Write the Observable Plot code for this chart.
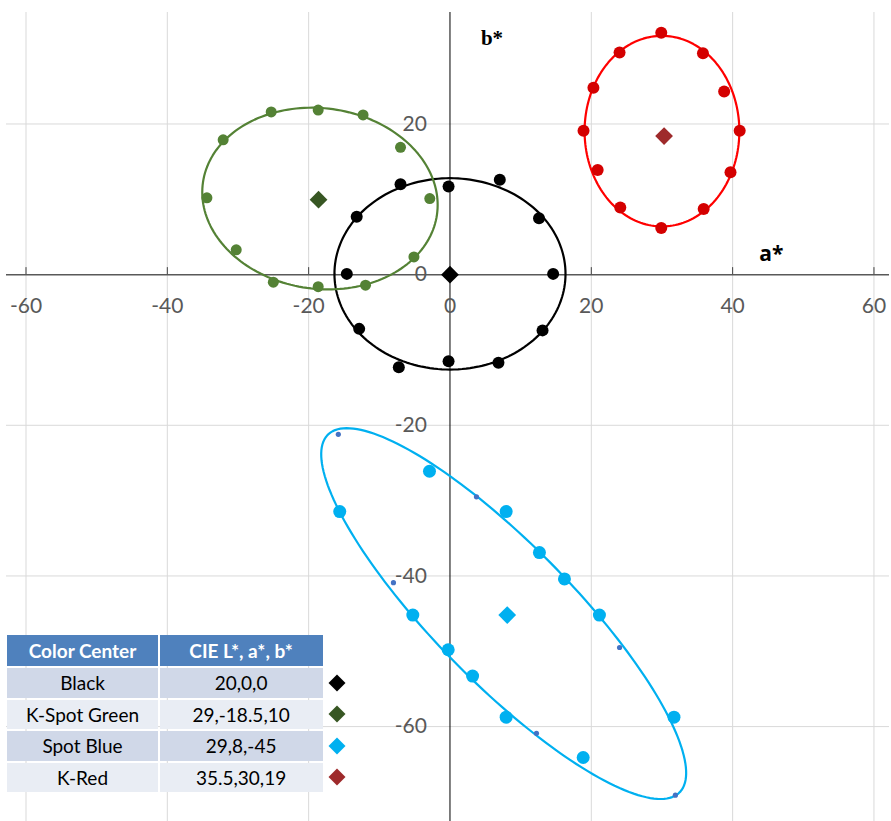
<!DOCTYPE html>
<html>
<head>
<meta charset="utf-8">
<script src="https://cdn.jsdelivr.net/npm/d3@7"></script>
<script src="https://cdn.jsdelivr.net/npm/@observablehq/plot@0.6"></script>
<style>
  body { margin: 0; background: #fff; }
  #wrap { position: relative; width: 891px; height: 821px; overflow: hidden; font-family: Lato, "Open Sans", sans-serif; }
  #chart { position: absolute; left: 0; top: 0; }
  #legend { position: absolute; left: 7px; top: 635px; display: grid;
    grid-template-columns: 151px 163px 26px; grid-template-rows: 31px repeat(4, 29.5px);
    column-gap: 1.6px; row-gap: 2px; }
  .cell { display: flex; align-items: center; justify-content: center; font-size: 19px; color: #000; }
  .hdr { background: #4F81BD; color: #fff; font-weight: bold; }
  .odd { background: #D0D8E8; }
  .even { background: #E9EDF4; }
  .sym { display: flex; align-items: center; justify-content: center; }
  .dia { width: 12px; height: 12px; transform: rotate(45deg); }
</style>
</head>
<body>
<div id="wrap">
  <div id="chart"></div>
  <div id="legend"></div>
</div>
<script>
// ---- data ----
const groups = ["Black", "K-Spot Green", "Spot Blue", "K-Red"];
const tableValues = ["20,0,0", "29,-18.5,10", "29,8,-45", "35.5,30,19"];
const tableHeader = ["Color Center", "CIE L*, a*, b*"];

// plotted centre diamonds (a*, b*)
const centerA = [0, -18.6, 8.1, 30.3];
const centerB = [0, 9.95, -45.2, 18.4];

// measured points
const blackA = [-0.2, 7.05, -7.0, -13.2, 12.6, -14.6, 14.6, -12.85, 13.1, -0.2, 6.86, -7.24];
const blackB = [11.7, 12.6, 12.0, 7.7, 7.5, 0.1, 0.1, -7.2, -7.4, -11.5, -11.7, -12.3];
const greenA = [-25.3, -18.65, -12.3, -32.1, -7.0, -34.4, -2.86, -30.25, -5.1, -25.0, -18.65, -11.95];
const greenB = [21.6, 21.85, 21.2, 17.9, 16.9, 10.2, 10.1, 3.3, 2.35, -1.0, -1.6, -1.4];
const redA = [29.9, 24.0, 35.8, 20.3, 38.8, 18.9, 41.0, 20.9, 39.7, 24.1, 35.9, 29.9];
const redB = [32.1, 29.5, 29.4, 24.8, 24.3, 19.1, 19.1, 13.9, 13.6, 8.9, 8.7, 6.2];
const blueA = [-2.9, -15.6, 7.95, 12.66, 16.2, -5.26, 21.15, -0.25, 3.2, 7.95, 31.7, 18.85];
const blueB = [-26.1, -31.45, -31.45, -36.9, -40.4, -45.2, -45.2, -49.8, -53.3, -58.75, -58.75, -64.1];
const blueSmallA = [-15.8, 3.75, -8.0, 24.0, 12.24, 31.9];
const blueSmallB = [-21.2, -29.5, -40.9, -49.5, -60.9, -69.1];

// fitted tolerance ellipses: centre, semi-axes, rotation (degrees)
const ellipseCx = [0, -18.4, 7.6, 30.0];
const ellipseCy = [0.1, 10.1, -45.0, 19.05];
const ellipseRx = [16.35, 16.7, 34.4, 10.95];
const ellipseRy = [12.7, 12.0, 9.45, 12.65];
const ellipseAngle = [0, -6, -43.4, 0];

// axis ticks
const xTicks = [-60, -40, -20, 0, 20, 40, 60];
const yTicks = [20, 0, -20, -40, -60];

// ---- styles ----
const lineColors = ["#000000", "#548235", "#00B0F0", "#FF0000"];
const dotColors = ["#000000", "#548235", "#00B0F0", "#D40000"];
const centerColors = ["#000000", "#375623", "#00B0F0", "#9E2A2B"];
const dotR = [6, 5.5, 6.5, 6];
const font = "Lato, 'Open Sans', sans-serif";

const pts = [[blackA, blackB], [greenA, greenB], [blueA, blueB], [redA, redB]];

function outline(i) {
  const th = ellipseAngle[i] * Math.PI / 180;
  return d3.range(0, 361, 2).map(deg => {
    const t = deg * Math.PI / 180;
    const u = ellipseRx[i] * Math.cos(t), v = ellipseRy[i] * Math.sin(t);
    return {x: ellipseCx[i] + u * Math.cos(th) - v * Math.sin(th),
            y: ellipseCy[i] + u * Math.sin(th) + v * Math.cos(th)};
  });
}

const marks = [
  Plot.gridX(xTicks.filter(d => d !== 0), {stroke: "#d9d9d9", strokeOpacity: 1, strokeWidth: 1}),
  Plot.gridY(yTicks.filter(d => d !== 0), {stroke: "#d9d9d9", strokeOpacity: 1, strokeWidth: 1}),
  Plot.ruleY([0], {stroke: "#595959", strokeWidth: 1.5}),
  Plot.ruleX([0], {stroke: "#000", strokeWidth: 1}),
  Plot.ruleX(xTicks.filter(d => d !== 0), {x: d => d, y1: 0, y2: 0, insetTop: -7, stroke: "#404040", strokeWidth: 1}),
  Plot.text(xTicks, {x: d => d, y: 0, dy: 32, text: d => String(d), fill: "#595959", fontSize: 21, fontFamily: font}),
  Plot.text(yTicks, {x: 0, y: d => d, dx: -23, textAnchor: "end", text: d => String(d), fill: "#595959", fontSize: 21, fontFamily: font}),
  Plot.text(["b*"], {x: 0, frameAnchor: "top", dx: 42, dy: 18, text: d => d, fontSize: 21, fontWeight: "bold", fontFamily: "'Liberation Serif', 'DejaVu Serif', serif", fill: "#000"}),
  Plot.text(["a*"], {y: 0, frameAnchor: "right", dx: -106, dy: -20, text: d => d, fontSize: 21, fontWeight: "bold", fontFamily: "'Open Sans', Lato, sans-serif", fill: "#000"})
];

groups.forEach((g, i) => {
  marks.push(Plot.line(outline(i), {x: "x", y: "y", stroke: lineColors[i], strokeWidth: 2.2, curve: "linear"}));
});
groups.forEach((g, i) => {
  const [A, B] = pts[i];
  marks.push(Plot.dot(A.map((a, k) => ({a, b: B[k]})), {x: "a", y: "b", r: dotR[i], fill: dotColors[i], stroke: "none"}));
});
marks.push(Plot.dot(blueSmallA.map((a, k) => ({a, b: blueSmallB[k]})), {x: "a", y: "b", r: 2.6, fill: "#4472C4", stroke: "none"}));
marks.push(Plot.dot(groups.map((g, i) => ({g, a: centerA[i], b: centerB[i], c: centerColors[i]})),
  {x: "a", y: "b", r: 8, symbol: "diamond2", fill: "c", stroke: "none"}));

const chart = Plot.plot({
  width: 891,
  height: 821,
  marginTop: 12,
  marginBottom: 0,
  marginLeft: 6,
  marginRight: 2,
  x: {domain: [-62.76, 62.2], axis: null},
  y: {domain: [-72.6, 34.8], axis: null},
  color: {type: "identity"},
  style: {background: "transparent", overflow: "visible"},
  marks
});
document.getElementById("chart").appendChild(chart);

// ---- table legend ----
const leg = document.getElementById("legend");
function cell(cls, txt) { const d = document.createElement("div"); d.className = "cell " + cls; d.textContent = txt; leg.appendChild(d); }
cell("hdr", tableHeader[0]); cell("hdr", tableHeader[1]);
leg.appendChild(document.createElement("div"));
groups.forEach((g, i) => {
  const cls = i % 2 === 0 ? "odd" : "even";
  cell(cls, g); cell(cls, tableValues[i]);
  const s = document.createElement("div"); s.className = "sym";
  const dd = document.createElement("div"); dd.className = "dia"; dd.style.background = centerColors[i];
  s.appendChild(dd); leg.appendChild(s);
});
</script>
</body>
</html>
